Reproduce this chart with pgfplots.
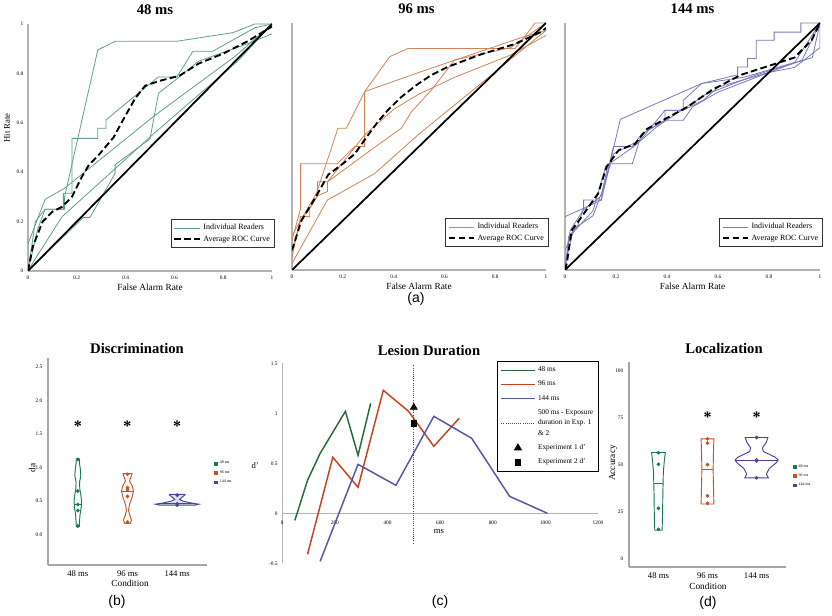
\documentclass[border=0pt]{standalone}
\usepackage{fontspec}
\setmainfont{Liberation Serif}
\newfontfamily\arial{Liberation Sans}
\usepackage{pgfplots}
\pgfplotsset{compat=1.18}
\definecolor{rocG}{RGB}{95,160,130}
\definecolor{rocO}{RGB}{210,130,85}
\definecolor{rocB}{RGB}{120,120,185}
\definecolor{vG}{RGB}{25,120,80}
\definecolor{vO}{RGB}{200,80,35}
\definecolor{vB}{RGB}{70,70,150}
\definecolor{lG}{RGB}{40,105,60}
\definecolor{lO}{RGB}{200,65,30}
\definecolor{lB}{RGB}{85,85,170}
\pgfplotsset{
  /pgf/number format/assume math mode=true,
  /pgf/number format/1000 sep={},
  roc/.style={scale only axis, anchor=south west,
    xmin=0, xmax=1, ymin=0, ymax=1,
    axis lines=left, axis line style={-, draw=gray!60, line width=0.8pt},
    xtick={0,0.2,0.4,0.6,0.8,1}, ytick=\empty, major tick length=0pt,
    tick label style={font=\fontsize{4}{4}\selectfont},
    title style={font=\fontsize{11}{13}\selectfont\bfseries, anchor=center, yshift=4.5pt},
    xlabel={False Alarm Rate},
    xlabel style={font=\fontsize{7}{8}\selectfont, at={(0.5,0)}, anchor=center, yshift=-12.5pt},
    ylabel style={font=\fontsize{6.5}{7}\selectfont, at={(-0.086,0.58)}, anchor=center},
    legend style={at={(1.012,0.093)}, anchor=south east, font=\fontsize{6}{7}\selectfont,
      draw=black!80, line width=0.5pt, inner sep=1.5pt, row sep=-1pt},
    legend cell align=left,
    legend image code/.code={\draw[##1] (0pt,0pt)--(19pt,0pt);}},
  reader/.style={line width=0.6pt},
  avg/.style={black, line width=1.4pt, dash pattern=on 5pt off 2.5pt},
  diag/.style={black, line width=1.3pt},
  vio/.style={scale only axis, anchor=south west, xmin=0.4, xmax=3.6,
    axis lines=left, axis line style={-, draw=gray!70, line width=0.8pt},
    xtick={1,2,3}, xticklabels={48 ms, 96 ms, 144 ms},
    major tick length=1.5pt, tick style={gray!70},
    xticklabel style={font=\fontsize{6.5}{7}\selectfont},
    yticklabel style={font=\fontsize{4}{4}\selectfont},
    title style={font=\fontsize{11}{13}\selectfont\bfseries, anchor=center},
    xlabel={Condition},
    ylabel style={font=\fontsize{7}{8}\selectfont, anchor=center},
    xlabel style={font=\fontsize{7}{8}\selectfont, anchor=center},
    legend style={draw=none, fill=none, font=\fontsize{3}{3.5}\selectfont, inner sep=0pt, row sep=-0.5pt},
    legend cell align=left,
    legend image code/.code={\draw[##1] plot coordinates {(1pt,0pt)};}},
}
\begin{document}
\begin{tikzpicture}[x=1pt,y=1pt]
\path[use as bounding box] (0,0) rectangle (624,462);

% ---------- 48 ms ROC
\begin{axis}[roc, at={(21pt,258.75pt)}, width=183pt, height=185.25pt,
  title={48 ms}, title style={at={(0.52,1)}}, ylabel={Hit Rate}, ytick={0,0.2,0.4,0.6,0.8,1}]
\addplot[reader, rocG] coordinates {(0,0) (0.03,0.2) (0.07,0.25) (0.15,0.25) (0.15,0.3) (0.286,0.895) (0.357,0.93) (0.61,0.93) (0.84,0.965) (0.93,1) (1,1)};
\addlegendentry{Individual Readers}
\addplot[reader, rocG, forget plot] coordinates {(0,0) (0.04,0.17) (0.07,0.25) (0.145,0.25) (0.145,0.315) (0.18,0.315) (0.18,0.537) (0.286,0.537) (0.286,0.578) (0.32,0.578) (0.32,0.611) (0.36,0.645) (0.533,0.785) (0.61,0.785) (0.676,0.89) (0.758,0.89) (0.93,0.985) (1,1)};
\addplot[reader, rocG, forget plot] coordinates {(0,0.11) (0.07,0.29) (0.15,0.335) (0.52,0.63) (0.85,0.87) (1,1)};
\addplot[reader, rocG, forget plot] coordinates {(0,0) (0.227,0.217) (0.254,0.217) (0.357,0.395) (0.357,0.43) (0.5,0.535) (0.535,0.72) (0.6,0.77) (0.7,0.85) (0.9,0.92) (1,0.96)};
\addplot[reader, rocG, forget plot] coordinates {(0,0) (0.03,0.05) (0.14,0.22) (0.52,0.56) (0.86,0.85) (1,1)};
\addplot[avg] coordinates {(0,0) (0.02,0.1) (0.06,0.2) (0.1,0.24) (0.14,0.26) (0.18,0.3) (0.22,0.38) (0.25,0.43) (0.29,0.47) (0.35,0.54) (0.4,0.63) (0.44,0.7) (0.48,0.75) (0.54,0.77) (0.62,0.79) (0.7,0.84) (0.8,0.88) (0.9,0.93) (1,0.99)};
\addlegendentry{Average ROC Curve}
\addplot[diag, forget plot] coordinates {(0,0) (1,1)};
\end{axis}

% ---------- 96 ms ROC
\begin{axis}[roc, at={(219pt,259.5pt)}, width=190.5pt, height=185.25pt,
  title={96 ms}, title style={at={(0.49,1)}}]
\addplot[reader, rocO] coordinates {(0,0.08) (0.034,0.2) (0.096,0.31) (0.181,0.574) (0.214,0.574) (0.286,0.722) (0.385,0.864) (0.457,0.897) (0.878,0.897) (0.92,0.95) (0.957,1) (1,1)};
\addlegendentry{Individual Readers}
\addplot[reader, rocO, forget plot] coordinates {(0,0.12) (0.034,0.25) (0.034,0.43) (0.178,0.43) (0.247,0.5) (0.286,0.5) (0.286,0.722) (0.5,0.8) (0.7,0.87) (0.9,0.94) (1,0.97)};
\addplot[reader, rocO, forget plot] coordinates {(0,0.05) (0.034,0.216) (0.07,0.216) (0.07,0.25) (0.1,0.3) (0.1,0.357) (0.14,0.357) (0.25,0.44) (0.33,0.5) (0.43,0.574) (0.47,0.64) (0.55,0.73) (0.64,0.85) (0.86,0.9) (1,1)};
\addplot[reader, rocO, forget plot] coordinates {(0,0.14) (0.034,0.2) (0.07,0.25) (0.1,0.3) (0.14,0.318) (0.14,0.357) (0.286,0.547) (0.4,0.65) (0.496,0.71) (0.64,0.78) (0.86,0.87) (1,0.95)};
\addplot[reader, rocO, forget plot] coordinates {(0,0.027) (0.139,0.283) (0.325,0.39) (0.496,0.547) (0.75,0.76) (1,0.97)};
\addplot[avg] coordinates {(0,0.08) (0.037,0.2) (0.096,0.3) (0.142,0.385) (0.2,0.43) (0.247,0.47) (0.293,0.537) (0.338,0.6) (0.378,0.648) (0.43,0.7) (0.49,0.749) (0.55,0.79) (0.615,0.823) (0.747,0.874) (0.878,0.915) (0.983,0.965) (1,0.98)};
\addlegendentry{Average ROC Curve}
\addplot[diag, forget plot] coordinates {(0,0) (1,1)};
\end{axis}

% ---------- 144 ms ROC
\begin{axis}[roc, at={(423.75pt,259.5pt)}, width=191.25pt, height=185.25pt,
  title={144 ms}, title style={at={(0.5,1)}}]
\addplot[reader, rocB] coordinates {(0,0.216) (0.073,0.25) (0.142,0.283) (0.217,0.61) (0.536,0.755) (0.677,0.79) (0.677,0.822) (0.716,0.822) (0.716,0.856) (0.75,0.856) (0.75,0.93) (0.82,0.93) (0.82,0.963) (0.925,0.963) (0.925,1) (1,1)};
\addlegendentry{Individual Readers}
\addplot[reader, rocB, forget plot] coordinates {(0,0) (0.014,0.135) (0.05,0.18) (0.073,0.25) (0.073,0.283) (0.142,0.283) (0.19,0.5) (0.264,0.5) (0.3,0.55) (0.392,0.606) (0.464,0.606) (0.5,0.66) (0.6,0.72) (0.8,0.8) (0.9,0.82) (1,0.9) (1,1)};
\addplot[reader, rocB, forget plot] coordinates {(0,0) (0.02,0.16) (0.07,0.24) (0.142,0.3) (0.17,0.43) (0.264,0.43) (0.3,0.55) (0.392,0.606) (0.392,0.647) (0.464,0.647) (0.464,0.687) (0.536,0.755) (0.7,0.78) (0.9,0.84) (1,1)};
\addplot[reader, rocB, forget plot] coordinates {(0,0.08) (0.04,0.17) (0.11,0.22) (0.15,0.33) (0.19,0.47) (0.3,0.53) (0.392,0.647) (0.464,0.647) (0.542,0.687) (0.6,0.74) (0.8,0.8) (0.93,0.85) (1,1)};
\addplot[reader, rocB, forget plot] coordinates {(0,0.02) (0.03,0.15) (0.11,0.24) (0.16,0.42) (0.27,0.5) (0.36,0.58) (0.55,0.71) (0.75,0.79) (0.97,0.86) (1,1)};
\addplot[avg] coordinates {(0,0) (0.007,0.027) (0.026,0.16) (0.065,0.215) (0.13,0.31) (0.163,0.418) (0.21,0.485) (0.275,0.51) (0.32,0.57) (0.39,0.61) (0.48,0.66) (0.575,0.728) (0.69,0.79) (0.81,0.83) (0.9,0.86) (0.967,0.93) (1,1)};
\addlegendentry{Average ROC Curve}
\addplot[diag, forget plot] coordinates {(0,0) (1,1)};
\end{axis}

\node[font=\arial\fontsize{10.5}{12}\selectfont] at (312,237.5) {(a)};

% ---------- Discrimination
\begin{axis}[vio, at={(36pt,38.25pt)}, width=119.25pt, height=155.25pt,
  ymin=-0.45, ymax=2.63, ytick={0,0.5,1,1.5,2,2.5},
  yticklabel style={/pgf/number format/.cd, fixed, fixed zerofill, precision=1},
  title={Discrimination}, title style={at={(0.56,1)}, yshift=1.5pt},
  ylabel={da}, ylabel style={at={(-0.1,0.47)}},
  xlabel style={at={(0.516,0)}, yshift=-13.5pt},
  legend style={at={(1.045,0.515)}, anchor=north west}]
\addplot[vG, line width=0.7pt, fill=white, forget plot] coordinates {(1.03,0.12) (1.035,0.2) (1.045,0.3) (1.07,0.42) (1.075,0.5) (1.06,0.6) (1.04,0.68) (1.035,0.78) (1.06,0.88) (1.05,0.98) (1.035,1.06) (1.03,1.13) (0.97,1.13) (0.965,1.06) (0.95,0.98) (0.94,0.88) (0.965,0.78) (0.96,0.68) (0.94,0.6) (0.925,0.5) (0.93,0.42) (0.955,0.3) (0.965,0.2) (0.97,0.12)} -- cycle;
\addplot[vG, line width=0.6pt, forget plot] coordinates {(0.928,0.45) (1.072,0.45)};
\addplot[vO, line width=0.7pt, fill=white, forget plot] coordinates {(2.06,0.17) (2.08,0.22) (2.05,0.28) (2.02,0.36) (2.04,0.45) (2.09,0.55) (2.12,0.65) (2.1,0.72) (2.04,0.8) (2.07,0.86) (2.09,0.91) (1.91,0.91) (1.93,0.86) (1.96,0.8) (1.9,0.72) (1.88,0.65) (1.91,0.55) (1.96,0.45) (1.98,0.36) (1.95,0.28) (1.92,0.22) (1.94,0.17)} -- cycle;
\addplot[vO, line width=0.6pt, forget plot] coordinates {(1.88,0.65) (2.12,0.65)};
\addplot[vB, line width=0.7pt, fill=vB!18, forget plot] coordinates {(3.35,0.44) (3.44,0.455) (3.3,0.47) (3.12,0.5) (3.05,0.525) (3.1,0.56) (3.16,0.595) (3.16,0.6) (2.84,0.6) (2.84,0.595) (2.9,0.56) (2.95,0.525) (2.88,0.5) (2.7,0.47) (2.56,0.455) (2.65,0.44)} -- cycle;
\addplot[vB, line width=0.6pt, forget plot] coordinates {(2.62,0.46) (3.38,0.46)};
\addplot[only marks, mark=*, mark size=1.2pt, vG, forget plot] coordinates {(1,1.12) (1,0.65) (1,0.45) (1,0.36) (1,0.13)};
\addplot[only marks, mark=*, mark size=1.2pt, vO, forget plot] coordinates {(2,0.9) (2,0.7) (2,0.67) (2,0.57) (2,0.19)};
\addplot[only marks, mark=*, mark size=1.2pt, vB, forget plot] coordinates {(3,0.59) (3,0.46) (3,0.44)};
\addlegendimage{only marks, mark=square*, mark size=1pt, vG}\addlegendentry{48 ms}
\addlegendimage{only marks, mark=square*, mark size=1pt, vO}\addlegendentry{96 ms}
\addlegendimage{only marks, mark=square*, mark size=1pt, vB}\addlegendentry{144 ms}
\node[font=\fontsize{12}{12}\selectfont\bfseries] at (axis cs:1,1.62) {*};
\node[font=\fontsize{12}{12}\selectfont\bfseries] at (axis cs:2,1.62) {*};
\node[font=\fontsize{12}{12}\selectfont\bfseries] at (axis cs:3,1.62) {*};
\node[font=\fontsize{7}{8}\selectfont, anchor=west] at (rel axis cs:1.03,0.55) {Condition};
\end{axis}
\node[font=\arial\fontsize{10.5}{12}\selectfont] at (87.75,10.5) {(b)};

% ---------- Lesion Duration
\begin{axis}[scale only axis, anchor=south west, at={(211.7pt,39.5pt)}, width=236.8pt, height=150pt,
  xmin=0, xmax=1200, ymin=-0.5, ymax=1.5, clip=false,
  axis lines=middle, axis line style={-, draw=gray!60, line width=0.6pt},
  xtick={0,200,400,600,800,1000,1200}, ytick={-0.5,0,0.5,1,1.5},
  hide obscured x ticks=false, hide obscured y ticks=false,
  major tick length=0pt,
  tick label style={font=\fontsize{4}{4}\selectfont},
  xticklabel style={yshift=-2pt},
  title={Lesion Duration},
  title style={font=\fontsize{11}{13}\selectfont\bfseries, at={(0.465,1)}, anchor=center, yshift=3.75pt},
  xlabel={ms}, xlabel style={font=\fontsize{6.5}{7}\selectfont, at={(0.496,0.157)}, anchor=center},
  ylabel={d'}, ylabel style={font=\fontsize{6.5}{7}\selectfont, at={(-0.086,0.487)}, anchor=center},
  legend style={at={(1.003,1.01)}, anchor=north east, font=\fontsize{5.5}{6.3}\selectfont,
    draw=black, line width=0.6pt, row sep=1.4pt, inner sep=2pt},
  legend cell align=left,
  legend image code/.code={\draw[mark repeat=2, mark phase=2, #1] plot coordinates {(0pt,0pt) (12.5pt,0pt) (25pt,0pt)};}]
\addplot[lG, line width=1.1pt] coordinates {(48,-0.07) (96,0.33) (144,0.6) (240,1.02) (288,0.58) (336,1.1)};
\addlegendentry{48 ms}
\addplot[lO, line width=1.1pt] coordinates {(96,-0.41) (192,0.56) (288,0.26) (384,1.23) (480,1.02) (576,0.67) (672,0.95)};
\addlegendentry{96 ms}
\addplot[lB, line width=1.1pt] coordinates {(144,-0.48) (288,0.49) (432,0.28) (576,0.97) (720,0.75) (864,0.17) (1008,0.0)};
\addlegendentry{144 ms}
\addplot[black!70, densely dotted, line width=0.6pt] coordinates {(500,-0.3) (500,1.48)};
\addlegendentry{\shortstack[l]{500 ms - Exposure\\duration in Exp. 1\\\& 2}}
\addplot[only marks, mark=triangle*, mark size=3pt, black] coordinates {(500,1.06)};
\addlegendentry{Experiment 1 d'}
\addplot[only marks, mark=square*, mark size=2.2pt, black] coordinates {(500,0.9)};
\addlegendentry{Experiment 2 d'}
\end{axis}
\node[font=\arial\fontsize{10.5}{12}\selectfont] at (330,10.7) {(c)};

% ---------- Localization
\begin{axis}[vio, at={(471.75pt,36.75pt)}, width=117.75pt, height=153.75pt,
  ymin=-4.6, ymax=104.8, ytick={0,25,50,75,100},
  title={Localization}, title style={at={(0.605,1)}, yshift=4.5pt},
  ylabel={Accuracy}, ylabel style={at={(-0.102,0.507)}},
  xlabel style={at={(0.503,0)}, yshift=-14.25pt},
  legend style={at={(1.045,0.515)}, anchor=north west}]
\addplot[vG, line width=0.7pt, fill=white, forget plot] coordinates {(1.075,15) (1.085,25) (1.09,35) (1.095,40) (1.1,46) (1.12,52) (1.14,56.5) (0.86,56.5) (0.88,52) (0.9,46) (0.905,40) (0.91,35) (0.915,25) (0.925,15)} -- cycle;
\addplot[vG, line width=0.6pt, forget plot] coordinates {(0.905,40) (1.095,40)};
\addplot[vO, line width=0.7pt, fill=white, forget plot] coordinates {(2.13,29) (2.125,35) (2.115,47) (2.12,55) (2.13,63.8) (1.87,63.8) (1.88,55) (1.885,47) (1.875,35) (1.87,29)} -- cycle;
\addplot[vO, line width=0.6pt, forget plot] coordinates {(1.885,47.5) (2.115,47.5)};
\addplot[vB, line width=0.7pt, fill=white, forget plot] coordinates {(3.24,43) (3.2,45) (3.26,48) (3.4,51) (3.44,52.5) (3.38,54) (3.14,57) (3.12,59) (3.2,62) (3.23,64.5) (2.77,64.5) (2.8,62) (2.88,59) (2.86,57) (2.62,54) (2.56,52.5) (2.6,51) (2.74,48) (2.8,45) (2.76,43)} -- cycle;
\addplot[vB, line width=0.6pt, forget plot] coordinates {(2.56,52.5) (3.44,52.5)};
\addplot[only marks, mark=*, mark size=1.2pt, vG, forget plot] coordinates {(1,56.4) (1,50.2) (1,26.7) (1,15.5)};
\addplot[only marks, mark=*, mark size=1.2pt, vO, forget plot] coordinates {(2,63.8) (2,61.5) (2,50) (2,33.4) (2,29.4)};
\addplot[only marks, mark=*, mark size=1.2pt, vB, forget plot] coordinates {(3,64.5) (3,52.5) (3,52) (3,43)};
\addlegendimage{only marks, mark=square*, mark size=1pt, vG}\addlegendentry{48 ms}
\addlegendimage{only marks, mark=square*, mark size=1pt, vO}\addlegendentry{96 ms}
\addlegendimage{only marks, mark=square*, mark size=1pt, vB}\addlegendentry{144 ms}
\node[font=\fontsize{12}{12}\selectfont\bfseries] at (axis cs:2,75.5) {*};
\node[font=\fontsize{12}{12}\selectfont\bfseries] at (axis cs:3,75.5) {*};
\node[font=\fontsize{7}{8}\selectfont, anchor=west] at (rel axis cs:1.03,0.556) {Condition};
\end{axis}
\node[font=\arial\fontsize{10.5}{12}\selectfont] at (531,9.75) {(d)};
\end{tikzpicture}
\end{document}
